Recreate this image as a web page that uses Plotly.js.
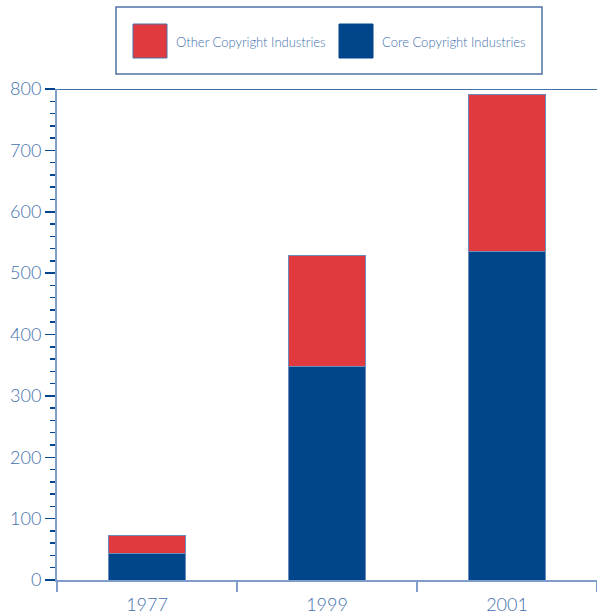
<!DOCTYPE html>
<html>
<head>
<meta charset="utf-8">
<script src="https://cdn.plot.ly/plotly-3.0.1.min.js"></script>
<style>
html,body{margin:0;padding:0;background:#fff;}
#chart{width:597px;height:616px;}
</style>
</head>
<body>
<div id="chart"></div>
<script>
const years = ["1977", "1999", "2001"];
const coreValues = [43.5, 348.5, 535.1];
const otherValues = [29.8, 179.5, 256.1];
const seriesNames = ["Other Copyright Industries", "Core Copyright Industries"];
const yTicks = [0, 100, 200, 300, 400, 500, 600, 700, 800];

const navy = "#01458b";
const red = "#e03a3f";
const lightBlue = "#7f9ecb";
const textBlue = "#4470ad";
const fontFam = "Lato, 'Open Sans', sans-serif";

const traces = [
  {
    type: "bar", x: years, y: coreValues, name: seriesNames[1],
    marker: {color: navy, line: {color: "#6b8cbd", width: 1}},
    width: 0.43, showlegend: false, hoverinfo: "y"
  },
  {
    type: "bar", x: years, y: otherValues, name: seriesNames[0],
    marker: {color: red, line: {color: "#6b8cbd", width: 1}},
    width: 0.43, showlegend: false, hoverinfo: "y"
  }
];

const layout = {
  width: 597, height: 616,
  margin: {l: 57, r: 0, t: 89, b: 36, pad: 0},
  paper_bgcolor: "#fff", plot_bgcolor: "#fff",
  barmode: "stack",
  showlegend: false,
  font: {family: fontFam, color: textBlue, weight: 300},
  xaxis: {
    type: "category", range: [-0.5, 2.5],
    showline: true, linecolor: lightBlue, linewidth: 2,
    ticks: "outside", tickson: "boundaries", ticklen: 10, tickwidth: 1.5, tickcolor: lightBlue,
    ticklabelstandoff: 7,
    tickfont: {size: 18, color: textBlue, family: fontFam, weight: 300},
    showgrid: false, zeroline: false, fixedrange: true
  },
  yaxis: {
    range: [0, 800], tickvals: yTicks,
    showline: true, linecolor: lightBlue, linewidth: 2,
    ticks: "outside", ticklen: 10, tickwidth: 1.5, tickcolor: navy,
    minor: {dtick: 20, ticks: "outside", ticklen: 5, tickwidth: 1.5, tickcolor: navy, showgrid: false},
    tickfont: {size: 18, color: textBlue, family: fontFam, weight: 300},
    showgrid: false, zeroline: false, fixedrange: true
  },
  shapes: [
    {type: "line", xref: "paper", yref: "y", x0: 0, x1: 1, y0: 800, y1: 800,
     line: {color: navy, width: 1.5}},
    {type: "rect", xref: "paper", yref: "paper",
     x0: (116-57)/540, x1: (542-57)/540, y0: (580-74)/491, y1: (580-7)/491,
     line: {color: "#4f71a6", width: 1.5}, fillcolor: "rgba(0,0,0,0)"},
    {type: "rect", xref: "paper", yref: "paper",
     x0: (133-57)/540, x1: (167-57)/540, y0: (580-58)/491, y1: (580-24)/491,
     line: {color: "#4f71a6", width: 1}, fillcolor: red},
    {type: "rect", xref: "paper", yref: "paper",
     x0: (339-57)/540, x1: (373-57)/540, y0: (580-58)/491, y1: (580-24)/491,
     line: {color: navy, width: 1}, fillcolor: navy}
  ],
  annotations: [
    {xref: "paper", yref: "paper", x: (174-57)/540, y: (580-42)/491,
     xanchor: "left", yanchor: "middle", showarrow: false, text: seriesNames[0],
     font: {size: 13, color: textBlue, family: fontFam, weight: 300}},
    {xref: "paper", yref: "paper", x: (380-57)/540, y: (580-42)/491,
     xanchor: "left", yanchor: "middle", showarrow: false, text: seriesNames[1],
     font: {size: 13, color: textBlue, family: fontFam, weight: 300}}
  ]
};

Plotly.newPlot("chart", traces, layout, {displayModeBar: false, staticPlot: true});
</script>
</body>
</html>
